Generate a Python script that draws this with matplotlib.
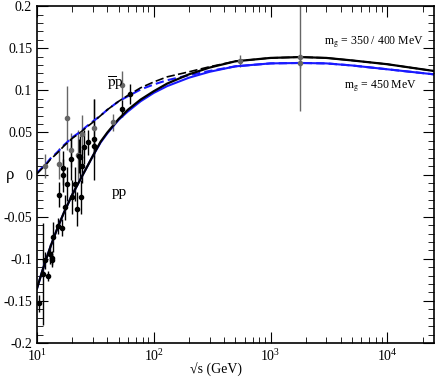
import numpy as np
import matplotlib
matplotlib.use('Agg')
import matplotlib.pyplot as plt
from matplotlib.ticker import MultipleLocator, FuncFormatter, LogLocator

plt.rcParams['font.family'] = ['Liberation Serif', 'DejaVu Serif']
plt.rcParams['mathtext.fontset'] = 'stix'
plt.rcParams['axes.unicode_minus'] = False

# model curves
sqrt_s = [10, 11, 12, 13, 14, 15, 17, 20, 23, 27, 30, 35, 40, 50, 60, 77, 100,
          130, 200, 300, 500, 1000, 1800, 3000, 5000, 10000, 25000]
pp_350 = [-0.135, -0.116, -0.100, -0.086, -0.074, -0.063, -0.045, -0.024, -0.008,
          0.010, 0.022, 0.039, 0.050, 0.066, 0.077, 0.089, 0.099, 0.108, 0.119,
          0.127, 0.1345, 0.1385, 0.1395, 0.1385, 0.1355, 0.131, 0.123]
pbar_350 = [0.001, 0.007, 0.012, 0.018, 0.022, 0.026, 0.034, 0.043, 0.049, 0.057,
            0.062, 0.070, 0.077, 0.087, 0.094, 0.103, 0.110, 0.116, 0.122, 0.128,
            0.1345, 0.1385, 0.1395, 0.1385, 0.1355, 0.131, 0.123]
pp_450 = [-0.135, -0.116, -0.100, -0.086, -0.074, -0.063, -0.045, -0.024, -0.008,
          0.010, 0.022, 0.038, 0.049, 0.065, 0.075, 0.087, 0.097, 0.105, 0.115,
          0.122, 0.1285, 0.132, 0.1325, 0.132, 0.1295, 0.125, 0.119]
pbar_450 = [0.002, 0.008, 0.013, 0.019, 0.023, 0.027, 0.035, 0.044, 0.050, 0.058,
            0.063, 0.070, 0.077, 0.087, 0.093, 0.101, 0.107, 0.112, 0.118, 0.123,
            0.1285, 0.132, 0.1325, 0.132, 0.1295, 0.125, 0.119]

# pp data
pp_s = [10.3, 11.2, 11.7, 12.5, 12.9, 13.3, 13.4, 13.8, 15.2, 15.5, 16.5, 16.6,
        16.8, 17.3, 18.0, 19.5, 19.9, 21.3, 22.0, 22.7, 23.3, 23.8, 24.3, 25.0,
        27.1, 30.6, 30.6, 53, 63]
pp_rho = [-0.153, -0.118, -0.102, -0.120, -0.094, -0.099, -0.102, -0.074, -0.061,
          -0.024, -0.063, -0.001, 0.008, -0.039, -0.011, 0.019, -0.027, -0.011,
          -0.041, 0.022, 0.021, -0.027, 0.010, 0.0325, 0.0385, 0.042, 0.034,
          0.078, 0.096]
pp_err = [0.010, 0.060, 0.010, 0.006, 0.012, 0.008, 0.008, 0.018, 0.010, 0.015,
          0.010, 0.020, 0.020, 0.015, 0.020, 0.025, 0.020, 0.020, 0.020, 0.020,
          0.025, 0.020, 0.020, 0.020, 0.015, 0.048, 0.010, 0.010, 0.012]

# pbar-p data
pbar_s = [11.6, 15.3, 18.2, 19.5, 22.5, 24.3, 30.6, 45, 53, 546, 1800, 1800]
pbar_rho = [0.010, 0.013, 0.067, 0.029, 0.023, 0.048, 0.055, 0.062, 0.106,
            0.135, 0.140, 0.132]
pbar_err = [0.014, 0.018, 0.038, 0.020, 0.030, 0.023, 0.035, 0.010, 0.017,
            0.007, 0.065, 0.005]

fig = plt.figure(figsize=(4.36, 3.82), dpi=100)
ax = fig.add_axes([0.085, 0.102, 0.91, 0.882])

ax.errorbar(pbar_s, pbar_rho, yerr=pbar_err, fmt='o', color='#666666',
            ms=3, elinewidth=1, capsize=0)
ax.errorbar(pp_s, pp_rho, yerr=pp_err, fmt='o', color='black',
            ms=3, elinewidth=1, capsize=0)

ax.plot(sqrt_s, pp_450, color='#1a1aff', lw=1.5)
ax.plot(sqrt_s, pbar_450, color='#1a1aff', lw=1.5, ls=(0, (4, 2)))
ax.plot(sqrt_s, pp_350, color='black', lw=1.6)
ax.plot(sqrt_s, pbar_350, color='black', lw=1.2, ls=(0, (5, 2)))

ax.set_xscale('log')
ax.set_xlim(10, 2.5e4)
ax.set_ylim(-0.2, 0.2)
ax.yaxis.set_major_locator(MultipleLocator(0.05))
ax.yaxis.set_minor_locator(MultipleLocator(0.01))
ax.yaxis.set_major_formatter(FuncFormatter(lambda v, p: '%g' % round(v, 3)))
ax.xaxis.set_minor_locator(LogLocator(base=10, subs=np.arange(2, 10)))

ax.tick_params(which='both', direction='in', top=True, right=True, labelsize=10)
ax.tick_params(which='major', length=8)
ax.tick_params(which='minor', length=4)
for sp in ax.spines.values():
    sp.set_linewidth(1.2)

ax.set_xlabel(u'\u221as (GeV)', fontsize=10, va='center')
ax.xaxis.set_label_coords(0.45, -0.08)
ax.set_ylabel(u'\u03c1', fontsize=12, rotation=0, ha='center', va='center')
ax.yaxis.set_label_coords(-0.068, 0.5)

ax.text(2870, 0.157, r'm$_{\rm g}$ = 350 / 400 MeV', fontsize=8.5, va='center')
ax.text(4270, 0.105, r'm$_{\rm g}$ = 450 MeV', fontsize=8.5, va='center')
ax.text(40, 0.108, r'$\overline{\rm p}$p', fontsize=11, va='center')
ax.text(43.5, -0.021, 'pp', fontsize=11, va='center')

fig.savefig('out.png', dpi=100)
